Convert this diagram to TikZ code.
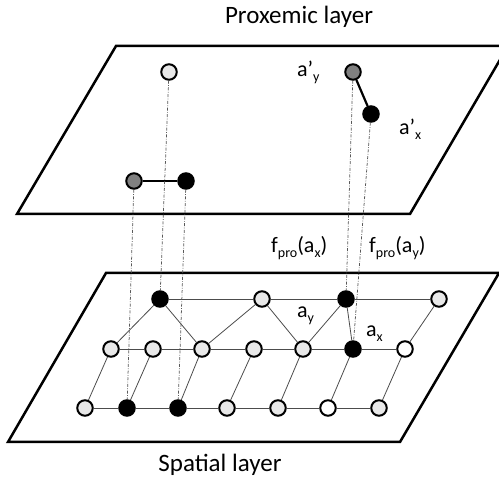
\documentclass[tikz,border=0pt]{standalone}
\usepackage{fontspec}
\setmainfont{Carlito}
\newcommand\lsub[1]{\raisebox{-4.5pt}{\fontsize{14pt}{14pt}\selectfont #1}}
\begin{document}
\begin{tikzpicture}[x=1pt,y=-1pt,
  layer/.style={line width=2.5pt, line join=miter},
  nd/.style={circle, draw=black, line width=2pt, minimum size=15.5pt, inner sep=0pt},
  lt/.style={nd, fill=black!9},
  wt/.style={nd, fill=white},
  bk/.style={nd, fill=black},
  dg/.style={nd, fill=black!50},
  link/.style={draw=black!70, line width=0.8pt},
  bond/.style={draw=black, line width=2.2pt},
  proj/.style={draw=black!65, line width=0.75pt, dash pattern=on 3pt off 1.5pt on 0.7pt off 1.5pt},
  lbl/.style={font=\fontsize{22pt}{22pt}\selectfont, inner sep=0pt, anchor=base west},
  ttl/.style={font=\fontsize{25pt}{25pt}\selectfont, inner sep=0pt, anchor=base}
]
\useasboundingbox (0,0) rectangle (499,478);
\fill[white] (0,0) rectangle (499,478);

% layers
\draw[layer] (116,46) -- (508,46) -- (410,214) -- (17,214) -- cycle;
\draw[layer] (106,273) -- (499,273) -- (400,442) -- (8,442) -- cycle;

% spatial nodes
\node[bk] (t1) at (160,299) {};
\node[lt] (t2) at (262,299) {};
\node[bk] (t3) at (346,299) {};
\node[lt] (t4) at (439,299) {};
\node[lt] (m1) at (111,349) {};
\node[lt] (m2) at (153,349) {};
\node[lt] (m3) at (202,349) {};
\node[lt] (m4) at (254,349) {};
\node[lt] (m5) at (303,349) {};
\node[bk] (m6) at (353,349) {};
\node[wt] (m7) at (405,349) {};
\node[lt] (b1) at (85,408) {};
\node[bk] (b2) at (127,408) {};
\node[bk] (b3) at (178,408) {};
\node[lt] (b4) at (227,408) {};
\node[lt] (b5) at (278,408) {};
\node[wt] (b6) at (328,408) {};
\node[lt] (b7) at (379,408) {};

% proxemic nodes
\node[lt] (p1) at (169,72) {};
\node[dg] (p2) at (134,181) {};
\node[bk] (p3) at (186,181) {};
\node[dg] (p4) at (353,72) {};
\node[bk] (p5) at (371,114) {};

% spatial links
\draw[link] (t1) -- (t2) (t2) -- (t3) (t3) -- (t4);
\draw[link] (m1) -- (m2) (m2) -- (m3) (m3) -- (m4) (m4) -- (m5) (m5) -- (m6) (m6) -- (m7);
\draw[link] (b1) -- (b2) (b2) -- (b3) (b3) -- (b4) (b4) -- (b5) (b5) -- (b6) (b6) -- (b7);
\draw[link] (t1) -- (m1) (t1) -- (m3) (t2) -- (m3) (t2) -- (m5) (t3) -- (m5) (t3) -- (m6) (t4) -- (m7);
\draw[link] (m1) -- (b1) (m2) -- (b2) (m3) -- (b3) (m4) -- (b4) (m5) -- (b5) (m6) -- (b6) (m7) -- (b7);

% proxemic bonds
\draw[bond] (p2) -- (p3);
\draw[bond] (p4) -- (p5);

% projections
\draw[proj] (p1) -- (t1);
\draw[proj] (p2) -- (b2);
\draw[proj] (p3) -- (b3);
\draw[proj] (p4) -- (t3);
\draw[proj] (p5) -- (m6);

% labels
\node[ttl] (tp) at (299,23.5) {Proxemic layer};
\node[ttl] (ts) at (220,471.5) {Spatial layer};
\node[lbl] (lay) at (297,77) {a’\lsub{y}};
\node[lbl] (lax) at (399,135) {a’\lsub{x}};
\node[lbl] (lfx) at (271,253) {f\lsub{pro}(a\lsub{x})};
\node[lbl] (lfy) at (369,253) {f\lsub{pro}(a\lsub{y})};
\node[lbl] (ly) at (297,318) {a\lsub{y}};
\node[lbl] (lx) at (366,337) {a\lsub{x}};
\end{tikzpicture}
\end{document}
